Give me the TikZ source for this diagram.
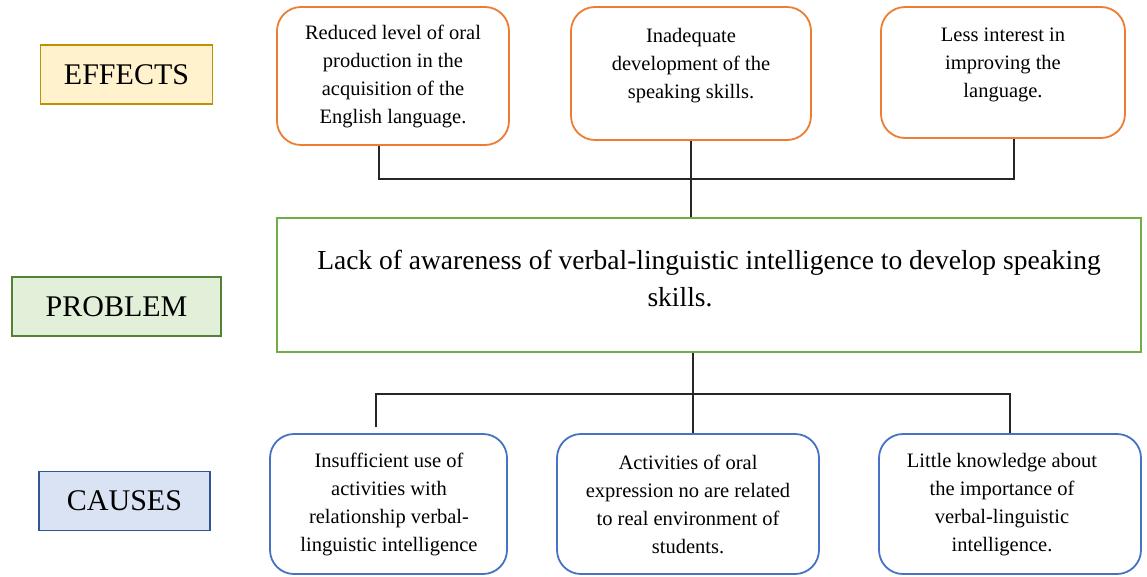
\documentclass[tikz,border=0pt]{standalone}
\usepackage{fontspec}
\setmainfont{Liberation Serif}
\definecolor{eorange}{HTML}{ED7D31}
\definecolor{pgreen}{HTML}{70AD47}
\definecolor{cblue}{HTML}{4472C4}
\definecolor{effill}{HTML}{FFF2CC}
\definecolor{efdraw}{HTML}{BF9000}
\definecolor{prfill}{HTML}{E2F0D9}
\definecolor{prdraw}{HTML}{538135}
\definecolor{cafill}{HTML}{DAE3F3}
\definecolor{cadraw}{HTML}{2F5597}
\tikzset{
  tagbox/.style={draw, line width=1.8pt, minimum width=172pt, minimum height=59pt, inner sep=0pt,
    font=\fontsize{30}{34}\selectfont},
  effbox/.style={draw=eorange, line width=1.8pt, rounded corners=24pt, fill=white, inner sep=0pt},
  causebox/.style={draw=cblue, line width=1.8pt, rounded corners=24pt, fill=white, inner sep=0pt},
  probbox/.style={draw=pgreen, line width=1.8pt, fill=white, inner sep=0pt},
  boxtext/.style={align=center, inner sep=0pt, font=\fontsize{20.5}{28}\selectfont},
  probtext/.style={align=center, inner sep=0pt, font=\fontsize{27.5}{37}\selectfont},
  link/.style={draw=black!85, line width=1.1pt}
}
\begin{document}
\begin{tikzpicture}[x=1pt,y=-1pt]
\useasboundingbox (0,0) rectangle (1147,576);
% side tags
\node[tagbox, draw=efdraw, fill=effill] (effects) at (126.5,74.5) {EFFECTS};
\node[tagbox, draw=prdraw, fill=prfill, minimum width=209pt] (problem) at (116.5,306.5) {PROBLEM};
\node[tagbox, draw=cadraw, fill=cafill, minimum width=171pt] (causes) at (124.5,501) {CAUSES};
% effect boxes
\node[effbox, minimum width=232pt, minimum height=138pt] (e1) at (393,76) {};
\node[effbox, minimum width=240pt, minimum height=133pt] (e2) at (691,73.5) {};
\node[effbox, minimum width=244pt, minimum height=131pt] (e3) at (1003,72.5) {};
\node[boxtext] (t1) at (393,76.5) {Reduced level of oral\\production in the\\acquisition of the\\English language.};
\node[boxtext] (t2) at (691,66) {Inadequate\\development of the\\speaking skills.};
\node[boxtext] (t3) at (1003,65) {Less interest in\\improving the\\language.};
% problem box
\node[probbox, minimum width=864pt, minimum height=134pt] (prob) at (709,285) {};
\node[probtext] (pt) at (709,278.5) {Lack of awareness of verbal-linguistic intelligence to develop speaking\\skills.\hspace*{58pt}};
% cause boxes
\node[causebox, minimum width=237pt, minimum height=140pt] (c1) at (388.5,504) {};
\node[causebox, minimum width=262pt, minimum height=140pt] (c2) at (688,504) {};
\node[causebox, minimum width=262pt, minimum height=140pt] (c3) at (1010,504) {};
\node[boxtext] (ct1) at (389,504.5) {Insufficient use of\\activities with\\relationship verbal-\\linguistic intelligence};
\node[boxtext] (ct2) at (688,504.5) {Activities of oral\\expression no are related\\to real environment of\\students.};
\node[boxtext] (ct3) at (1002,504.5) {Little knowledge about\\the importance of\\verbal-linguistic\\intelligence.};
% connectors top
\coordinate (jt) at (690,179);
\draw[link] ([xshift=-14pt]e1.south) |- (jt) -| ([xshift=11pt]e3.south);
\draw[link] (e2.south) -- (e2.south |- prob.north);
% connectors bottom
\coordinate (jb) at (693,394);
\draw[link] (jb |- prob.south) -- (jb |- c2.north);
\draw[link] ([xshift=-12.5pt,yshift=6pt]c1.north) |- (jb) -| (c3.north);
\end{tikzpicture}
\end{document}
